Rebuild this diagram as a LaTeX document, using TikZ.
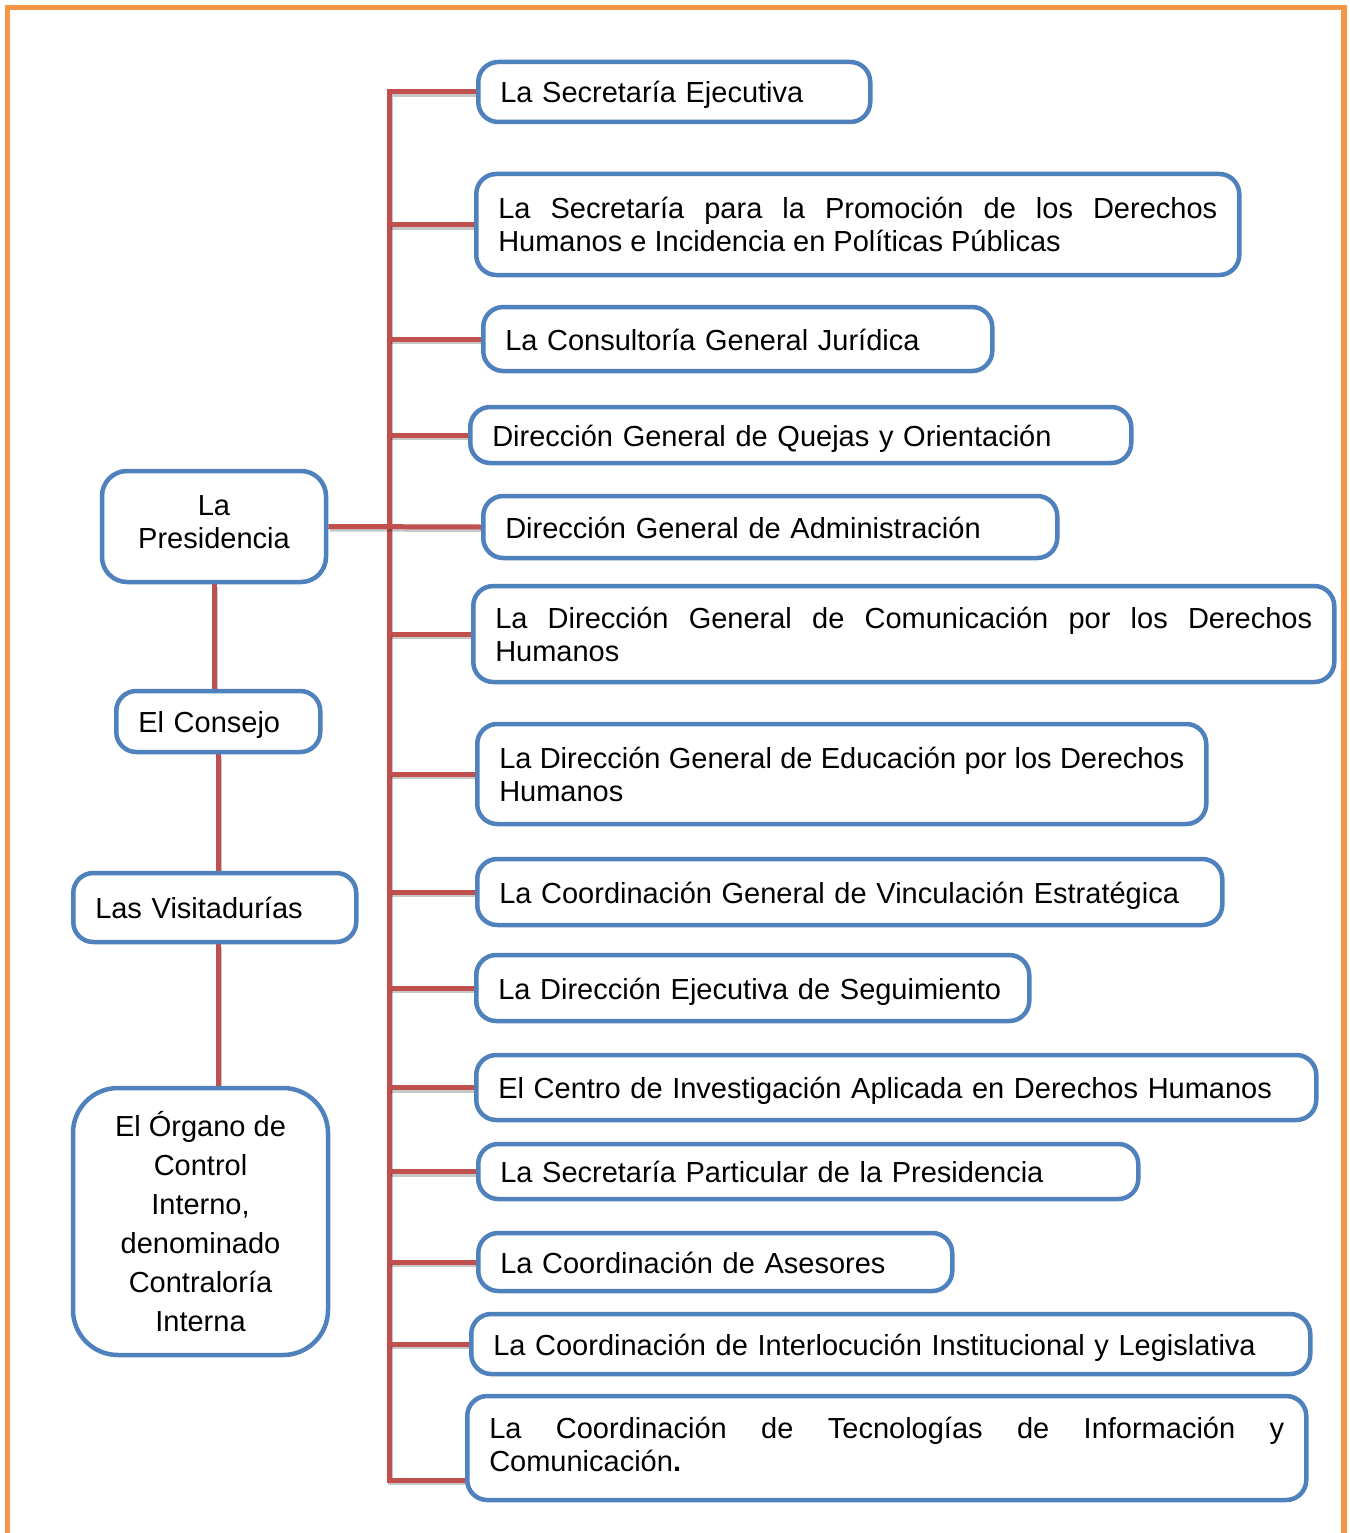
\documentclass[tikz,border=0pt]{standalone}
\usepackage{fontspec}
\setmainfont{Liberation Sans}
\usepackage{xcolor}
\usetikzlibrary{calc,backgrounds}

\definecolor{azul}{HTML}{4F81BD}
\definecolor{rojo}{HTML}{C0504D}
\definecolor{naranja}{HTML}{F79646}

\tikzset{
  unidad/.style={draw=azul, line width=4.5pt, rounded corners=20pt, fill=white,
    anchor=west, inner xsep=22pt, inner ysep=0pt,
    font=\fontsize{29}{33}\selectfont},
  linea/.style={unidad, align=left, text height=26pt, text depth=4pt},
  doble/.style={unidad, align=justify},
  conector/.style={draw=rojo, line width=5pt,
    preaction={draw=black, opacity=.22, line width=5pt,
      transform canvas={xshift=1.5pt, yshift=-2.5pt}}},
}

\begin{document}
\begin{tikzpicture}[x=1pt, y=-1pt]
        \useasboundingbox (0,0) rectangle (1349,1533);

        %MARCO
        \draw[naranja, line width=5.5pt] (7.5,1545) -- (7.5,7.5) -- (1344,7.5) -- (1344,1545);

        %CAJAS IZQUIERDA
        \node[unidad, anchor=center, align=center, rounded corners=25pt, text depth=9pt,
              minimum width=224pt, minimum height=111pt] (pres) at (214,526.5) {La\\Presidencia};
        \node[linea, text width=160pt, minimum height=61pt] (cons) at (114,721.5) {El Consejo};
        \node[unidad, align=left, text width=239pt, minimum height=69pt] (vis) at (71,907.5) {Las Visitadurías};
        \node[unidad, anchor=center, align=center, rounded corners=45pt,
              font=\fontsize{29}{39}\selectfont,
              minimum width=255pt, minimum height=267pt] (org) at (200.5,1221.5)
              {El Órgano de\\Control\\Interno,\\denominado\\Contraloría\\Interna};

        %CAJAS DERECHA
        \node[linea, text width=348pt, minimum height=60pt] (b1) at (476,92) {La Secretaría Ejecutiva};
        \node[doble, text width=719pt, minimum height=101pt] (b2) at (474,224.5)
              {La Secretaría para la Promoción de los Derechos\linebreak Humanos e Incidencia en Políticas Públicas};
        \node[linea, text width=465pt, minimum height=64pt] (b3) at (481,339) {La Consultoría General Jurídica};
        \node[linea, text width=617pt, minimum height=56pt] (b4) at (468,435) {Dirección General de Quejas y Orientación};
        \node[linea, text width=530pt, minimum height=62pt] (b5) at (481,527) {Dirección General de Administración};
        \node[doble, text width=817pt, minimum height=96pt] (b6) at (471,634)
              {La Dirección General de Comunicación por los Derechos\linebreak Humanos};
        \node[doble, text width=685pt, minimum height=100pt] (b7) at (475,774)
              {La Dirección General de Educación por los Derechos\linebreak Humanos};
        \node[linea, text width=701pt, minimum height=66pt] (b8) at (475,892) {La Coordinación General de Vinculación Estratégica};
        \node[linea, text width=509pt, minimum height=66pt] (b9) at (474,988) {La Dirección Ejecutiva de Seguimiento};
        \node[linea, text width=796pt, minimum height=65pt] (b10) at (474,1087.5) {El Centro de Investigación Aplicada en Derechos Humanos};
        \node[linea, text width=616pt, minimum height=55pt] (b11) at (476,1171.5) {La Secretaría Particular de la Presidencia};
        \node[linea, text width=430pt, minimum height=58pt] (b12) at (476,1262) {La Coordinación de Asesores};
        \node[linea, text width=795pt, minimum height=60pt] (b13) at (469,1344) {La Coordinación de Interlocución Institucional y Legislativa};
        \node[doble, text width=795pt, minimum height=104pt, text depth=41pt] (b14) at (465,1448)
              {La Coordinación de Tecnologías de Información y\linebreak Comunicación\textbf{.}};

        %CONECTORES
        \coordinate (tronco) at (389,0);
        \coordinate (b14in) at ($(b14.south west)+(0,-22)$);
        \begin{scope}[on background layer]
          \draw[conector] (b1.west) -- (tronco |- b1.west) |- (b14in);
          \foreach \n in {2,3,4,6,7,8,9,10,11,12,13}
            \draw[conector] (tronco |- b\n.west) -- (b\n.west);
          \draw[conector] (pres.east) -- (b5.west);
          \draw[conector] (pres.south) -- (pres.south |- cons.north);
          \draw[conector] (cons.south) -- (cons.south |- vis.north);
          \draw[conector] (cons.south |- vis.south) -- (cons.south |- org.north);
        \end{scope}
    \end{tikzpicture}
\end{document}
